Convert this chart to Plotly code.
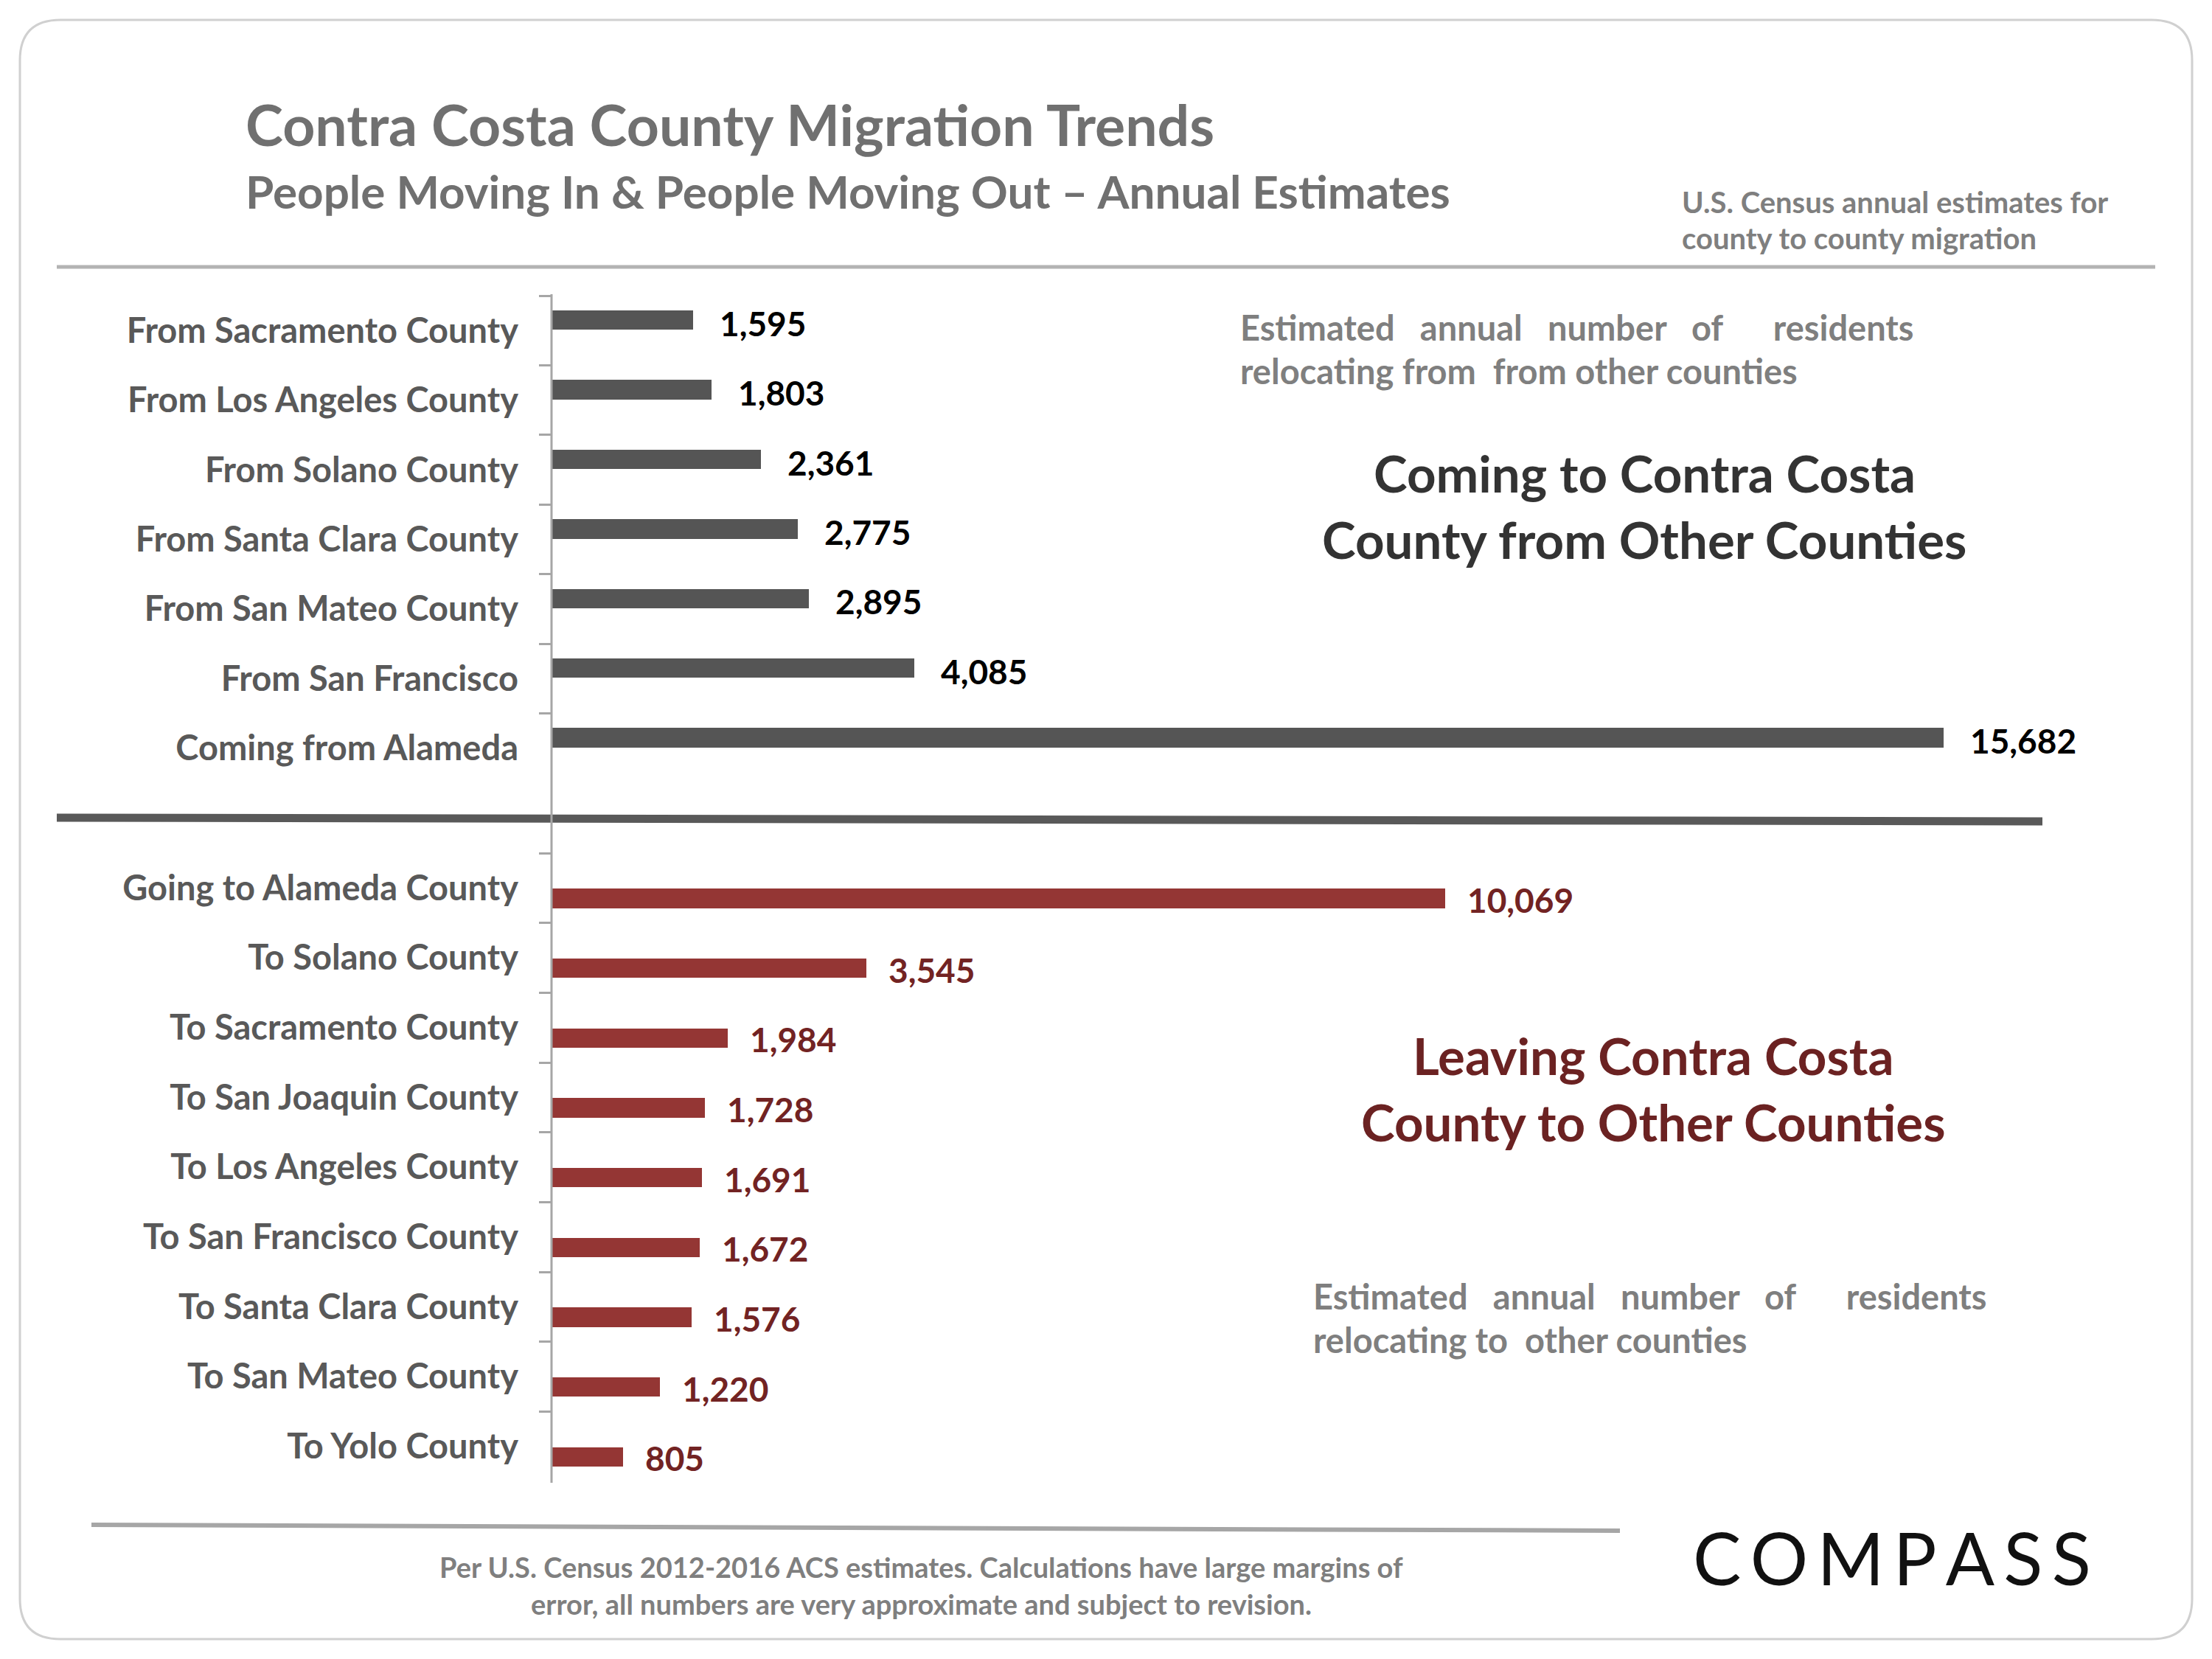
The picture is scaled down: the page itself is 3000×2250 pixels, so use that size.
import plotly.graph_objects as go

# ---- data ----
in_labels = [
    "From Sacramento County",
    "From Los Angeles County",
    "From Solano County",
    "From Santa Clara County",
    "From San Mateo County",
    "From San Francisco",
    "Coming from Alameda",
]
in_values = [1595, 1803, 2361, 2775, 2895, 4085, 15682]

out_labels = [
    "Going to Alameda County",
    "To Solano County",
    "To Sacramento County",
    "To San Joaquin County",
    "To Los Angeles County",
    "To San Francisco County",
    "To Santa Clara County",
    "To San Mateo County",
    "To Yolo County",
]
out_values = [10069, 3545, 1984, 1728, 1691, 1672, 1576, 1220, 805]

W, H = 3000, 2250
PAGE_PAD = 8  # the html body margin shifts the figure by this much
FONT = "Lato"
GREY_BAR = "#555555"
RED_BAR = "#943634"
RED_TEXT = "#722323"
AXIS_GREY = "#a6a6a6"
LABEL_GREY = "#595959"


def px(x):
    return (x - PAGE_PAD) / W


def py(y):
    return 1 - (y - PAGE_PAD) / H


# axis geometry (pixels in the 3000x2250 canvas)
AXIS_X = 748
PLOT_RIGHT = 2900
SCALE = 1888 / 15682  # px per resident
TOP_Y0, TOP_Y1 = 401, 1062
BOT_Y0, BOT_Y1 = 1157, 2009

fig = go.Figure()

fig.add_trace(go.Bar(
    y=in_labels, x=in_values, orientation="h",
    marker=dict(color=GREY_BAR, line=dict(width=0)),
    width=0.28, offset=-0.29,
    xaxis="x", yaxis="y", hoverinfo="skip", showlegend=False,
))
fig.add_trace(go.Bar(
    y=out_labels, x=out_values, orientation="h",
    marker=dict(color=RED_BAR, line=dict(width=0)),
    width=0.28, offset=0.01,
    xaxis="x", yaxis="y2", hoverinfo="skip", showlegend=False,
))

annotations = []
for lab, v in zip(in_labels, in_values):
    annotations.append(dict(
        x=v, y=lab, xref="x", yref="y", text=f"<b>{v:,}</b>",
        xanchor="left", yanchor="middle", xshift=34, yshift=10, showarrow=False,
        font=dict(family=FONT, size=46, color="#000000"),
    ))
for lab, v in zip(out_labels, out_values):
    annotations.append(dict(
        x=v, y=lab, xref="x", yref="y2", text=f"<b>{v:,}</b>",
        xanchor="left", yanchor="middle", xshift=28, yshift=-16, showarrow=False,
        font=dict(family=FONT, size=46, color=RED_TEXT),
    ))


def note(x, y, text, size, color, anchor="left", bold=True):
    annotations.append(dict(
        x=px(x), y=py(y), xref="paper", yref="paper",
        text=f"<b>{text}</b>" if bold else text,
        xanchor=anchor, yanchor="middle", align=anchor, showarrow=False,
        font=dict(family=FONT, size=size, color=color),
    ))


note(331, 168, "Contra Costa County Migration Trends", 77, "#707070")
note(331, 259, "People Moving In &amp; People Moving Out \u2013 Annual Estimates", 62, "#707070")
note(2279, 274, "U.S. Census annual estimates for", 40, "#7f7f7f")
note(2279, 323, "county to county migration", 40, "#7f7f7f")

sp = "\u00a0"
note(1680, 444, f"Estimated{sp*3}annual{sp*3}number{sp*3}of{sp*6}residents", 47, "#7f7f7f")
note(1680, 503, f"relocating from{sp*2}from other counties", 47, "#7f7f7f")
note(2230, 641, "Coming to Contra Costa", 69, "#333333", anchor="center")
note(2230, 731, "County from Other Counties", 69, "#333333", anchor="center")
note(2242, 1431, "Leaving Contra Costa", 69, "#6b2222", anchor="center")
note(2242, 1521, "County to Other Counties", 69, "#6b2222", anchor="center")
note(1779, 1758, f"Estimated{sp*3}annual{sp*3}number{sp*3}of{sp*6}residents", 47, "#7f7f7f")
note(1779, 1817, f"relocating to{sp*2}other counties", 47, "#7f7f7f")
note(1249, 2125, "Per U.S. Census 2012-2016 ACS estimates. Calculations have large margins of", 38,
     "#7f7f7f", anchor="center")
note(1249, 2175, "error, all numbers are very approximate and subject to revision.", 38,
     "#7f7f7f", anchor="center")
annotations.append(dict(
    x=px(2566), y=py(2112), xref="paper", yref="paper",
    text="C\u2009O\u2009M\u2009P\u2009A\u2009S\u2009S", xanchor="center", yanchor="middle",
    showarrow=False, font=dict(family=FONT, size=98, color="#111111"),
))

# rounded outer frame
x0, x1, y0, y1 = px(27), px(2973), py(27), py(2223)
rx, ry = 55 / W, 55 / H
frame = (
    f"M {x0+rx},{y0} L {x1-rx},{y0} Q {x1},{y0} {x1},{y0-ry} "
    f"L {x1},{y1+ry} Q {x1},{y1} {x1-rx},{y1} "
    f"L {x0+rx},{y1} Q {x0},{y1} {x0},{y1+ry} "
    f"L {x0},{y0-ry} Q {x0},{y0} {x0+rx},{y0} Z"
)
shapes = [
    dict(type="path", path=frame, xref="paper", yref="paper",
         line=dict(color="#d0d0d0", width=3), layer="below"),
    # header rule
    dict(type="line", xref="paper", yref="paper", x0=px(77), x1=px(2923), y0=py(362), y1=py(362),
         line=dict(color="#b3b3b3", width=5)),
    # divider between the two panels
    dict(type="line", xref="paper", yref="paper", x0=px(77), x1=px(2770), y0=py(1109), y1=py(1114),
         line=dict(color="#595959", width=11)),
    # footer rule
    dict(type="line", xref="paper", yref="paper", x0=px(124), x1=px(2197), y0=py(2068), y1=py(2076),
         line=dict(color="#a6a6a6", width=6)),
    # value axis line running through both panels
    dict(type="line", xref="paper", yref="paper", x0=px(AXIS_X), x1=px(AXIS_X),
         y0=py(TOP_Y0 - 2), y1=py(BOT_Y1 + 2), line=dict(color=AXIS_GREY, width=3)),
]

cat_axis = dict(
    type="category", showgrid=False, zeroline=False, showline=False,
    ticks="outside", tickson="boundaries", ticklen=16, tickwidth=3, tickcolor=AXIS_GREY,
    ticklabelstandoff=44,
    tickfont=dict(family=FONT, size=47, color=LABEL_GREY, weight="bold"),
    anchor="x", fixedrange=True,
)

fig.update_layout(
    width=W, height=H,
    margin=dict(l=0, r=0, t=0, b=0),
    paper_bgcolor="white", plot_bgcolor="rgba(0,0,0,0)",
    xaxis=dict(domain=[px(AXIS_X), px(PLOT_RIGHT)],
               range=[0, (PLOT_RIGHT - AXIS_X) / SCALE],
               visible=False, anchor="y", fixedrange=True),
    yaxis=dict(cat_axis, domain=[py(TOP_Y1), py(TOP_Y0)],
               categoryorder="array", categoryarray=in_labels,
               range=[len(in_labels) - 0.5, -0.5]),
    yaxis2=dict(cat_axis, domain=[py(BOT_Y1), py(BOT_Y0)],
                categoryorder="array", categoryarray=out_labels,
                range=[len(out_labels) - 0.5, -0.5]),
    annotations=annotations,
    shapes=shapes,
    bargap=0,
)

fig.write_html("out.html")
